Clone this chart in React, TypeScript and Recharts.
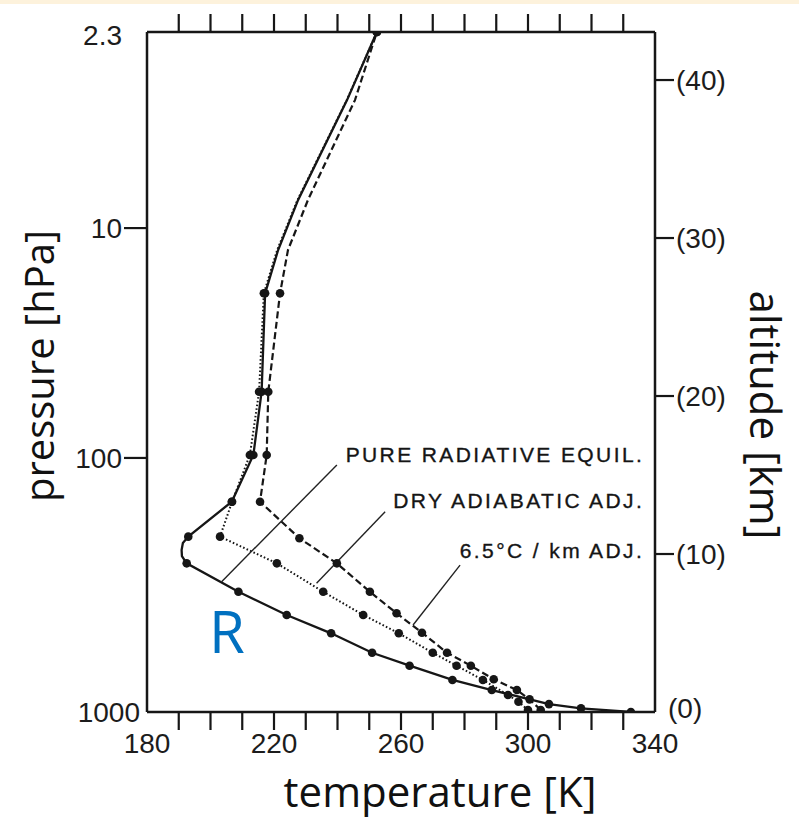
import React from 'react';
import {
  ComposedChart,
  Line,
  Scatter,
  XAxis,
  YAxis,
  ReferenceDot,
  ReferenceLine,
} from 'recharts';

type Pt = { t: number; z: number };
const toPts = (rows: number[][]): Pt[] => rows.map(([t, z]) => ({ t, z }));
const byAltitude = (a: number[][], b: number[][]): Pt[] =>
  toPts([...a, ...b]).sort((p, q) => p.z - q.z);

// [temperature K, altitude km] at model levels (drawn with dots)
const radiativeLevels = [
  [332.4, 0], [316.7, 0.23], [306.6, 0.5], [288.6, 1.39], [276.2, 2.03], [262.7, 2.93],
  [250.9, 3.75], [238.0, 4.98], [224.0, 6.14], [208.8, 7.61], [192.5, 9.41], [193.0, 11.1],
  [206.7, 13.31], [213.5, 16.27], [216.1, 20.27], [217.2, 26.5], [252.4, 43.04],
];
// points between levels that shape the curve (no dots)
const radiativeBends = [
  [191.0, 9.87], [190.9, 10.25], [191.3, 10.7], [221.3, 29.24], [227.6, 32.41], [243.0, 38.73],
];

const dryLevels = [
  [300.0, 0.13], [297.0, 0.65], [293.7, 1.08], [285.8, 2.03], [277.5, 2.93], [270.0, 3.75],
  [259.3, 4.98], [248.1, 6.14], [235.5, 7.61], [220.9, 9.41], [203.0, 11.1], [206.8, 13.31],
  [212.4, 16.27], [215.3, 20.27], [216.8, 26.5], [252.4, 43.04],
];
const dryBends = [[221.0, 29.24], [227.4, 32.41], [242.9, 38.73]];

const lapseLevels = [
  [304.0, 0.13], [300.5, 0.8], [296.5, 1.39], [289.2, 2.07], [282.0, 2.93], [274.5, 3.75],
  [266.6, 5.02], [258.6, 6.25], [250.2, 7.61], [239.8, 9.41], [228.0, 11.0], [215.6, 13.31],
  [217.7, 16.27], [218.2, 20.27], [221.9, 26.5], [252.4, 43.04],
];
const lapseBends = [[224.4, 29.24], [230.7, 32.41], [245.5, 38.73]];

// axes
const temperatureDomain = [180, 340];
const temperatureTicks = [180, 190, 200, 210, 220, 230, 240, 250, 260, 270, 280, 290, 300, 310, 320, 330, 340];
const temperatureLabels = [180, 220, 260, 300, 340];
const altitudeDomain = [0, 43.04];
const pressureAltitudes = [0, 16.08, 30.63, 43.04];
const pressureLabels = ['1000', '100', '10', '2.3'];
const altitudeTicks = [0, 10, 20, 30, 40];

// annotations: label anchor [T, z] and leader segment
const annotationTexts = ['PURE RADIATIVE EQUIL.', 'DRY ADIABATIC ADJ.', '6.5°C / km ADJ.'];
const annotationAnchors = [[336.6, 15.82], [336.6, 12.91], [336.6, 9.75]];
const annotationLeaders = [
  [[239.8, 15.63], [203.5, 8.25]],
  [[255.0, 12.68], [233.4, 8.15]],
  [[278.6, 9.3], [263.8, 5.51]],
];
const curveTag = 'R';
const curveTagAnchor = [199.5, 3.75];

const INK = '#161616';
const FONT_TICK = '"Liberation Sans", Arial, sans-serif';
const FONT_TITLE = '"Open Sans", "Noto Sans", sans-serif';
const BOTTOM_TICK = 18;
const TOP_TICK = 18;
const LEFT_TICK = 23;
const RIGHT_TICK = 19;
const GAP = 2;

const isEnd = (v: number) => v === temperatureTicks[0] || v === temperatureTicks[temperatureTicks.length - 1];

function BottomTick(props: any) {
  const { x, y, payload } = props;
  const v = payload.value;
  const axisY = y - GAP - BOTTOM_TICK;
  return (
    <g>
      {!isEnd(v) && <line x1={x} x2={x} y1={axisY} y2={axisY + BOTTOM_TICK} stroke={INK} strokeWidth={2.2} />}
      {temperatureLabels.includes(v) && (
        <text x={x} y={y} dy={21} textAnchor="middle" fontFamily={FONT_TICK} fontSize={28} fill="#1c1c1c">
          {v}
        </text>
      )}
    </g>
  );
}

function TopTick(props: any) {
  const { x, y, payload } = props;
  const v = payload.value;
  if (isEnd(v)) return <g />;
  return <line x1={x} x2={x} y1={y + GAP} y2={y + GAP + TOP_TICK} stroke={INK} strokeWidth={2.2} />;
}

function LeftTick(props: any) {
  const { x, y, index } = props;
  const label = pressureLabels[index];
  const inner = index > 0 && index < pressureLabels.length - 1;
  const last = index === pressureLabels.length - 1;
  return (
    <g>
      {inner && <line x1={x + GAP} x2={x + GAP + LEFT_TICK} y1={y} y2={y} stroke={INK} strokeWidth={2.2} />}
      <text
        x={x}
        y={y}
        dx={index === 0 ? 18 : 0}
        dy={last ? 13 : 10}
        textAnchor="end"
        fontFamily={FONT_TICK}
        fontSize={28}
        fill="#1c1c1c"
      >
        {label}
      </text>
    </g>
  );
}

function RightTick(props: any) {
  const { x, y, payload } = props;
  const v = payload.value;
  return (
    <g>
      {v !== 0 && <line x1={x - GAP - RIGHT_TICK} x2={x - GAP} y1={y} y2={y} stroke={INK} strokeWidth={2.2} />}
      <text x={x} y={y} dx={v === 0 ? -8 : 0} dy={v === 0 ? 6 : 10} textAnchor="start" fontFamily={FONT_TICK} fontSize={28} fill="#1c1c1c">
        {`(${v})`}
      </text>
    </g>
  );
}

const dotShape = (p: any) => <circle cx={p.cx} cy={p.cy} r={4.3} fill={INK} />;

const annotationLabel = (text: string) => (p: any) => (
  <text
    x={p.viewBox.x}
    y={p.viewBox.y}
    textAnchor="end"
    fontFamily={FONT_TICK}
    fontSize={21}
    letterSpacing={2.4}
    fill="#151515"
    stroke="#151515"
    strokeWidth={0.35}
  >
    {text}
  </text>
);

const tagLabel = (p: any) => (
  <text x={p.viewBox.x} y={p.viewBox.y} textAnchor="start" fontFamily={FONT_TITLE} fontSize={58} fill="#0070C0">
    {curveTag}
  </text>
);

const leftTitle = (p: any) => {
  const vb = p.viewBox;
  const x = vb.x - 33;
  const y = vb.y + vb.height / 2 - 6;
  return (
    <text x={x} y={y} transform={`rotate(-90 ${x} ${y})`} textAnchor="middle" fontFamily={FONT_TITLE} fontSize={40} fill="#111">
      pressure [hPa]
    </text>
  );
};

const rightTitle = (p: any) => {
  const vb = p.viewBox;
  const x = vb.x + 95;
  const y = vb.y + vb.height / 2 + 43;
  return (
    <text x={x} y={y} transform={`rotate(90 ${x} ${y})`} textAnchor="middle" fontFamily={FONT_TITLE} fontSize={42} fill="#111">
      altitude [km]
    </text>
  );
};

const bottomTitle = (p: any) => {
  const vb = p.viewBox;
  return (
    <text x={vb.x + vb.width / 2 + 39} y={vb.y + 95} textAnchor="middle" fontFamily={FONT_TITLE} fontSize={42} fill="#111">
      temperature [K]
    </text>
  );
};

const radiativePath = byAltitude(radiativeLevels, radiativeBends);
const dryPath = byAltitude(dryLevels, dryBends);
const lapsePath = byAltitude(lapseLevels, lapseBends);

export default function App() {
  return (
    <div style={{ position: 'absolute', left: 0, top: 0, width: 799, height: 818, background: '#ffffff', overflow: 'hidden' }}>
      <div style={{ position: 'absolute', left: 0, top: 0, width: 799, height: 4, background: '#FDF2DC' }} />
      <ComposedChart width={799} height={818} margin={{ top: 14, right: 84, bottom: 46, left: 87 }}>
        <XAxis
          xAxisId="bottom"
          dataKey="t"
          type="number"
          orientation="bottom"
          domain={temperatureDomain}
          ticks={temperatureTicks}
          interval={0}
          height={60}
          tickSize={BOTTOM_TICK}
          tickMargin={GAP}
          tickLine={false}
          tick={<BottomTick />}
          axisLine={{ stroke: INK, strokeWidth: 2.5 }}
          allowDataOverflow
          label={bottomTitle}
        />
        <XAxis
          xAxisId="top"
          dataKey="t"
          type="number"
          orientation="top"
          domain={temperatureDomain}
          ticks={temperatureTicks}
          interval={0}
          height={18}
          tickSize={TOP_TICK}
          tickMargin={GAP}
          tickLine={false}
          tick={<TopTick />}
          axisLine={{ stroke: INK, strokeWidth: 2.5 }}
          allowDataOverflow
        />
        <YAxis
          yAxisId="left"
          dataKey="z"
          type="number"
          orientation="left"
          domain={altitudeDomain}
          ticks={pressureAltitudes}
          interval={0}
          width={60}
          tickSize={LEFT_TICK}
          tickMargin={GAP}
          tickLine={false}
          tick={<LeftTick />}
          axisLine={{ stroke: INK, strokeWidth: 2.5 }}
          allowDataOverflow
          label={leftTitle}
        />
        <YAxis
          yAxisId="right"
          type="number"
          orientation="right"
          domain={altitudeDomain}
          ticks={altitudeTicks}
          interval={0}
          width={60}
          tickSize={RIGHT_TICK}
          tickMargin={GAP}
          tickLine={false}
          tick={<RightTick />}
          axisLine={{ stroke: INK, strokeWidth: 2.5 }}
          allowDataOverflow
          label={rightTitle}
        />

        <Line xAxisId="bottom" yAxisId="left" data={radiativePath} dataKey="z" type="linear" stroke={INK} strokeWidth={2.3} dot={false} isAnimationActive={false} />
        <Line xAxisId="bottom" yAxisId="left" data={dryPath} dataKey="z" type="linear" stroke={INK} strokeWidth={2} strokeDasharray="1.6 2.2" dot={false} isAnimationActive={false} />
        <Line xAxisId="bottom" yAxisId="left" data={lapsePath} dataKey="z" type="linear" stroke={INK} strokeWidth={2.2} strokeDasharray="7 3.5" dot={false} isAnimationActive={false} />

        <Scatter xAxisId="bottom" yAxisId="left" data={toPts(radiativeLevels)} shape={dotShape} isAnimationActive={false} />
        <Scatter xAxisId="bottom" yAxisId="left" data={toPts(dryLevels)} shape={dotShape} isAnimationActive={false} />
        <Scatter xAxisId="bottom" yAxisId="left" data={toPts(lapseLevels)} shape={dotShape} isAnimationActive={false} />

        {annotationLeaders.map((seg, i) => (
          <ReferenceLine
            key={`lead-${i}`}
            xAxisId="bottom"
            yAxisId="left"
            segment={[{ x: seg[0][0], y: seg[0][1] }, { x: seg[1][0], y: seg[1][1] }]}
            stroke="#222"
            strokeWidth={1.4}
            ifOverflow="visible"
          />
        ))}
        {annotationTexts.map((txt, i) => (
          <ReferenceDot
            key={`ann-${i}`}
            xAxisId="bottom"
            yAxisId="left"
            x={annotationAnchors[i][0]}
            y={annotationAnchors[i][1]}
            r={0}
            stroke="none"
            fill="none"
            ifOverflow="visible"
            label={annotationLabel(txt)}
          />
        ))}
        <ReferenceDot
          xAxisId="bottom"
          yAxisId="left"
          x={curveTagAnchor[0]}
          y={curveTagAnchor[1]}
          r={0}
          stroke="none"
          fill="none"
          ifOverflow="visible"
          label={tagLabel}
        />
      </ComposedChart>
    </div>
  );
}
